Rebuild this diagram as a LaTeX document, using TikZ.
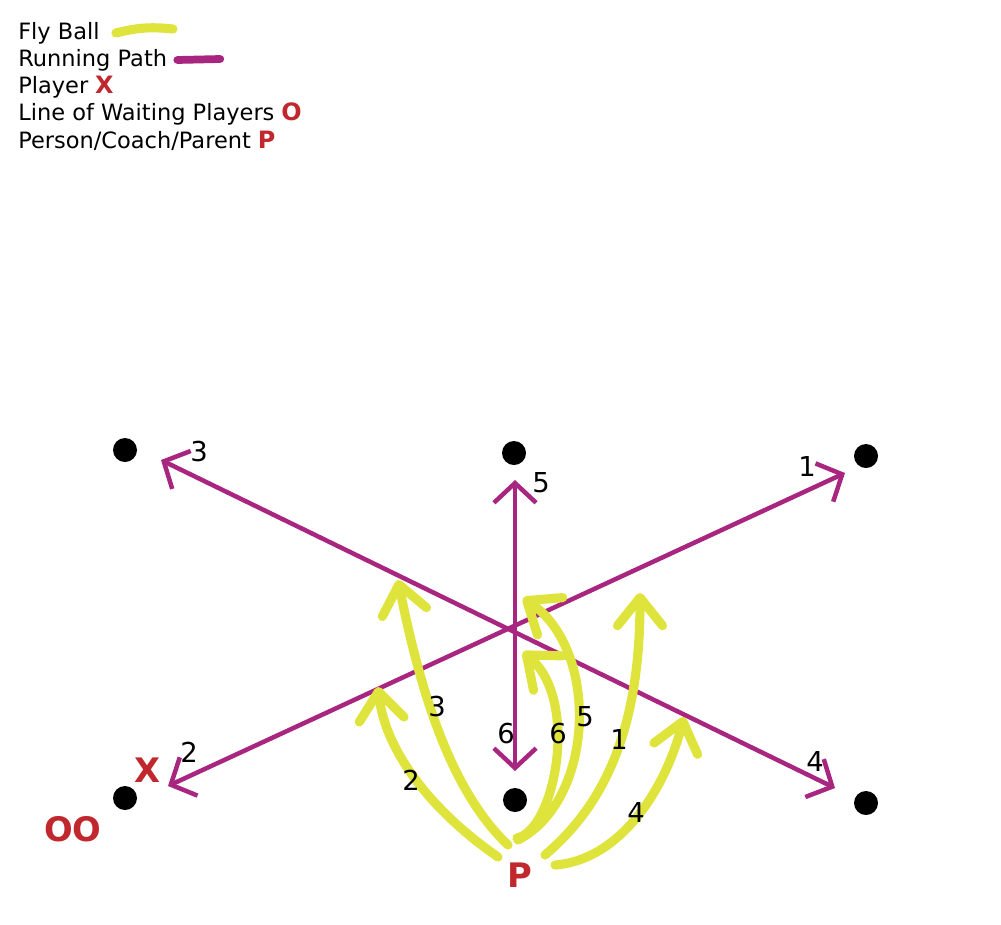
\documentclass[tikz,border=0pt]{standalone}
\usepackage{fontspec}
\setmainfont{DejaVu Sans}
\usetikzlibrary{arrows.meta,positioning}
\definecolor{runPurple}{RGB}{168,38,128}
\definecolor{flyYellow}{RGB}{222,228,60}
\definecolor{markRed}{RGB}{192,40,46}

\begin{document}
\begin{tikzpicture}[
    x=0.25mm, y=-0.25mm,
    dot/.style={circle, fill=black, minimum size=6mm, inner sep=0},
    run/.style={line width=3.2pt, draw=runPurple,
        {Straight Barb[length=14pt,width=30pt]}-{Straight Barb[length=14pt,width=30pt]}},
    fly/.style={line width=6.5pt, draw=flyYellow, line cap=round,
        -{Straight Barb[round,length=20pt,width=32pt]}},
    num/.style={inner sep=0, font=\fontsize{19.5}{22}\selectfont},
    legend/.style={anchor=west, inner sep=0, font=\fontsize{16}{19}\selectfont},
    redmark/.style={inner sep=0, text=markRed, font=\bfseries\fontsize{17}{19}\selectfont},
    bigmark/.style={inner sep=0, text=markRed, font=\bfseries\fontsize{24}{26}\selectfont},
  ]
  \useasboundingbox (0,0) rectangle (1001,924);

  % legend
  \node[legend] (lfly) at (18,33) {Fly Ball};
  \node[legend] (lrun) at (18,60) {Running Path};
  \node[legend] (lplay) at (18,87) {Player};
  \node[legend] (lwait) at (18,114) {Line of Waiting Players};
  \node[legend] (lcoach) at (18,141) {Person/Coach/Parent};
  \node[redmark, base right=1.6mm of lplay] (lx) {X};
  \node[redmark, base right=1.6mm of lwait] (lo) {O};
  \node[redmark, base right=1.6mm of lcoach] (lp) {P};
  \draw[line width=6.5pt, flyYellow, line cap=round] ([xshift=4mm]lfly.east) to[bend left=10] ++(57,-4);
  \draw[line width=5.5pt, runPurple, line cap=round] ([xshift=2.5mm]lrun.east) -- ++(43,-1);

  % field
  \node[dot] (dtl) at (125,450) {};
  \node[dot] (dtc) at (514,453) {};
  \node[dot] (dtr) at (866,456) {};
  \node[dot] (dbl) at (125,798) {};
  \node[dot] (dbc) at (515,800) {};
  \node[dot] (dbr) at (866,803) {};

  \node[bigmark] (X) at (148,770) {X};
  \node[bigmark] (OO) at (73,829) {OO};
  \node[bigmark] (P) at (520,875) {P};

  % running paths
  \coordinate (r1) at (845,473);
  \coordinate (r2) at (168,786);
  \coordinate (r3) at (161,460);
  \coordinate (r4) at (835,788);
  \coordinate (r5) at (515,480);
  \coordinate (r6) at (515,771);

  \draw[run] (r2) -- (r1);
  \draw[run] (r3) -- (r4);
  \draw[run] (r5) -- (r6);

  \node[num] (n1) at (807,466) {1};
  \node[num] (n2) at (189,752) {2};
  \node[num] (n3) at (199,452) {3};
  \node[num] (n4) at (815,761) {4};
  \node[num] (n5) at (541,483) {5};
  \node[num] (n6) at (506,734) {6};

  % fly balls
  \coordinate (s1) at (545,855);
  \coordinate (s2) at (498,857);
  \coordinate (s3) at (508,845);
  \coordinate (s4) at (555,865);
  \coordinate (s5) at (518,840);
  \coordinate (s6) at (517,838);
  \coordinate (f1) at (640,593);
  \coordinate (f2) at (378,687);
  \coordinate (f3) at (398,580);
  \coordinate (f4) at (684,717);
  \coordinate (f5) at (523,598);
  \coordinate (f6) at (523,652);

  \draw[fly] (s2) .. controls (430,810) and (385,750) .. (f2);
  \draw[fly] (s3) .. controls (450,790) and (420,690) .. (f3);
  \draw[fly] (s6) .. controls (555,830) and (580,700) .. (f6);
  \draw[fly] (s5) .. controls (595,800) and (600,650) .. (f5);
  \draw[fly] (s1) .. controls (610,800) and (640,720) .. (f1);
  \draw[fly] (s4) .. controls (620,860) and (665,790) .. (f4);

  \node[num] (b1) at (619,739) {1};
  \node[num] (b2) at (411,780) {2};
  \node[num] (b3) at (437,707) {3};
  \node[num] (b4) at (636,812) {4};
  \node[num] (b5) at (585,717) {5};
  \node[num] (b6) at (558,734) {6};
\end{tikzpicture}
\end{document}
